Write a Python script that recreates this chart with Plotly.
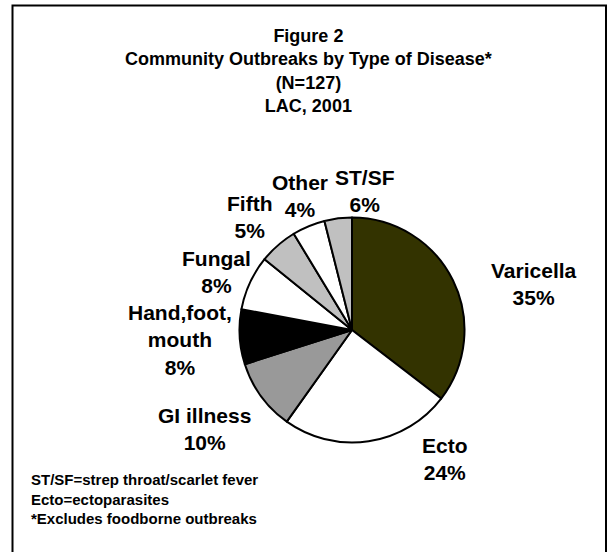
import plotly.graph_objects as go

# ---- data ----
categories = ["Varicella", "Ecto", "GI illness", "Hand,foot,<br>mouth", "Fungal", "Fifth", "Other", "ST/SF"]
counts = [45, 31, 13, 10, 10, 7, 6, 5]
pct_labels = ["35%", "24%", "10%", "8%", "8%", "5%", "4%", "6%"]

title_lines = ["Figure 2", "Community Outbreaks by Type of Disease*", "(N=127)", "LAC, 2001"]
footnotes = ["ST/SF=strep throat/scarlet fever", "Ecto=ectoparasites", "*Excludes foodborne outbreaks"]

# ---- styling / layout config ----
colors = ["#333300", "#FFFFFF", "#999999", "#000000", "#FFFFFF", "#C0C0C0", "#FFFFFF", "#C0C0C0"]
# label block centres in pixels (x, y from top), one per category
label_pos = [(534, 284), (445, 459), (204, 429), (180, 340), (216, 272), (249, 217), (300, 196), (365, 191)]

FONT = "Arial, Liberation Sans, sans-serif"
W, H = 613, 552
CX, CY, R = 352, 330, 112.5


def xp(x):
    return x / W


def yp(y):
    return 1 - y / H


fig = go.Figure(go.Pie(
    labels=categories,
    values=counts,
    customdata=pct_labels,
    sort=False,
    direction="clockwise",
    rotation=0,
    marker=dict(colors=colors, line=dict(color="#000000", width=2)),
    textinfo="none",
    showlegend=False,
    hovertemplate="%{label}<br>%{customdata}<extra></extra>",
    domain=dict(x=[xp(CX - R), xp(CX + R)], y=[yp(CY + R), yp(CY - R)]),
))

annotations = []
for lab, pct, (lx, ly) in zip(categories, pct_labels, label_pos):
    annotations.append(dict(
        text=f"{lab}<br>{pct}", xref="paper", yref="paper",
        x=xp(lx), y=yp(ly), xanchor="center", yanchor="middle", align="center",
        showarrow=False,
        font=dict(family=FONT, size=21, color="#000000", weight="bold"),
    ))

annotations.append(dict(
    text="<br>".join(title_lines), xref="paper", yref="paper",
    x=xp(308), y=yp(70.5), xanchor="center", yanchor="middle", align="center",
    showarrow=False,
    font=dict(family=FONT, size=18, color="#000000", weight="bold"),
))

annotations.append(dict(
    text="<br>".join(footnotes), xref="paper", yref="paper",
    x=xp(29), y=yp(499), xanchor="left", yanchor="middle", align="left",
    showarrow=False,
    font=dict(family=FONT, size=15, color="#000000", weight="bold"),
))

fig.update_layout(
    width=W, height=H,
    margin=dict(l=0, r=0, t=0, b=0),
    paper_bgcolor="#FFFFFF",
    plot_bgcolor="#FFFFFF",
    shapes=[dict(type="rect", xref="paper", yref="paper",
                 x0=xp(12.5), x1=xp(606), y0=yp(560), y1=yp(5.5),
                 line=dict(color="#000000", width=2), fillcolor="rgba(0,0,0,0)")],
    annotations=annotations,
)

fig.write_html("out.html", config={"displayModeBar": False},
               post_script="document.body.style.margin='0';")
